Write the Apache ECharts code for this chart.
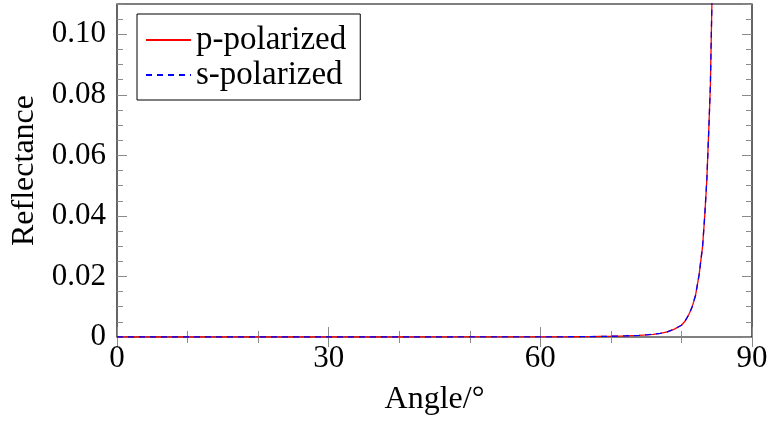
<!DOCTYPE html>
<html>
<head>
<meta charset="utf-8">
<script src="https://cdn.jsdelivr.net/npm/echarts@6/dist/echarts.min.js"></script>
<style>
  html, body { margin: 0; padding: 0; background: #fff; }
  #chart { width: 773px; height: 425px; }
</style>
</head>
<body>
<div id="chart"></div>
<script>
// angle in degrees, reflectance
var angles = [0, 10, 20, 30, 40, 50, 55, 60, 64, 68, 70, 72, 74, 75, 76, 77, 78, 79, 80, 80.5, 81, 81.5, 82, 82.5, 83, 83.3, 83.6, 83.9, 84.1, 84.3, 84.5];
var pValues = [0, 0, 0, 0, 0, 0.00001, 0.00002, 0.00004, 0.00008, 0.00016, 0.00024, 0.00036, 0.00055, 0.0007, 0.0009, 0.0012, 0.0017, 0.0026, 0.0039, 0.0052, 0.0072, 0.0098, 0.0138, 0.0205, 0.030, 0.040, 0.052, 0.070, 0.083, 0.108, 0.135];
var sValues = [0, 0, 0, 0, 0, 0.00001, 0.00002, 0.00004, 0.00008, 0.00016, 0.00024, 0.00036, 0.00055, 0.0007, 0.0009, 0.0012, 0.0017, 0.0026, 0.0039, 0.0052, 0.0072, 0.0098, 0.0138, 0.0205, 0.030, 0.040, 0.052, 0.070, 0.083, 0.108, 0.135];
var xTicks = [0, 30, 60, 90];
var yTicks = [0, 0.02, 0.04, 0.06, 0.08, 0.10];

var font = 'Liberation Serif';
var tickColor = '#8a8a8a';

function pairs(xs, ys) {
    return xs.map(function (x, i) { return [x, ys[i]]; });
}

var myChart = echarts.init(document.getElementById('chart'));

// major / minor y axis (left + mirrored right)
function yAx(pos, interval, len, labels) {
    return {
        type: 'value',
        position: pos,
        min: 0,
        max: 0.11,
        interval: interval,
        axisLine: { show: false },
        splitLine: { show: false },
        axisTick: { show: true, inside: true, length: len, lineStyle: { color: tickColor, width: 1 } },
        axisLabel: {
            show: labels,
            showMaxLabel: false,
            fontFamily: font,
            fontSize: 31,
            color: '#000',
            margin: 11,
            formatter: function (v) {
                if (yTicks.indexOf(Math.round(v * 100) / 100) < 0) return '';
                return v === 0 ? '0' : v.toFixed(2);
            }
        }
    };
}

function xAx(pos, labels) {
    return {
        type: 'value',
        position: pos,
        min: xTicks[0],
        max: xTicks[xTicks.length - 1],
        interval: 30,
        axisLine: { show: false },
        splitLine: { show: false },
        axisTick: { show: true, inside: true, length: 10, lineStyle: { color: tickColor, width: 1 } },
        minorTick: { show: true, splitNumber: 3, length: 6, lineStyle: { color: tickColor, width: 1 } },
        axisLabel: { show: labels, fontFamily: font, fontSize: 31, color: '#000', margin: 6 }
    };
}

var xBottom = xAx('bottom', true);
xBottom.name = 'Angle/°';
xBottom.nameLocation = 'middle';
xBottom.nameGap = 47;
xBottom.nameTextStyle = { fontFamily: font, fontSize: 32, color: '#000' };

var yLeft = yAx('left', 0.02, 10, true);
yLeft.name = 'Reflectance';
yLeft.nameLocation = 'middle';
yLeft.nameGap = 74;
yLeft.nameTextStyle = { fontFamily: font, fontSize: 32, color: '#000' };

option = {
    animation: false,
    backgroundColor: '#fff',
    grid: {
        left: 117,
        right: 21,
        top: 4,
        bottom: 88,
        show: true,
        borderColor: '#000',
        borderWidth: 1.2,
        backgroundColor: 'transparent'
    },
    legend: {
        orient: 'vertical',
        left: 137,
        top: 14,
        padding: [9, 14, 8, 8],
        itemGap: 1,
        itemWidth: 45,
        itemHeight: 14,
        borderColor: '#000',
        borderWidth: 1,
        backgroundColor: '#fff',
        itemStyle: { opacity: 0 },
        textStyle: { fontFamily: font, fontSize: 33, lineHeight: 34, color: '#000' },
        data: ['p-polarized', 's-polarized']
    },
    xAxis: [xBottom, xAx('top', false)],
    yAxis: [
        yLeft,
        yAx('left', 0.005, 6, false),
        yAx('right', 0.02, 10, false),
        yAx('right', 0.005, 6, false)
    ],
    series: [
        {
            name: 'p-polarized',
            type: 'line',
            data: pairs(angles, pValues),
            symbol: 'none',
            clip: true,
            lineStyle: { color: '#ff0000', width: 1.3 },
            itemStyle: { color: '#ff0000' }
        },
        {
            name: 's-polarized',
            type: 'line',
            data: pairs(angles, sValues),
            symbol: 'none',
            clip: true,
            lineStyle: { color: '#0000ff', width: 1.3, type: [6, 5] },
            itemStyle: { color: '#0000ff' }
        }
    ]
};

myChart.setOption(option);
</script>
</body>
</html>
